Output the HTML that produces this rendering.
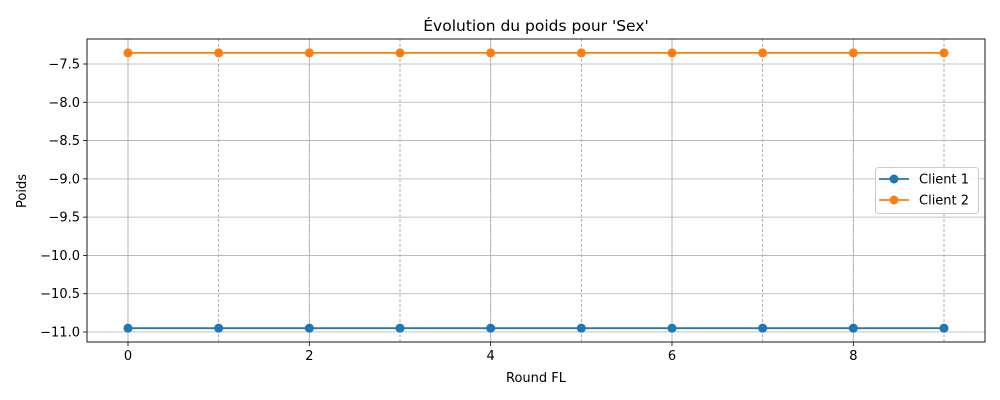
<!DOCTYPE html>
<html><head><meta charset="utf-8"><style>
body{margin:0;background:#fff;}
svg{display:block;font-family:"DejaVu Sans","Liberation Sans",sans-serif;}
</style></head><body>
<svg id="chart" width="1000" height="400"></svg>
<script>
const rounds=[0,1,2,3,4,5,6,7,8,9];
const client1=[-10.95,-10.95,-10.95,-10.95,-10.95,-10.95,-10.95,-10.95,-10.95,-10.95];
const client2=[-7.355,-7.355,-7.355,-7.355,-7.355,-7.355,-7.355,-7.355,-7.355,-7.355];
const xTicks=[0,2,4,6,8];
const yTicks=[-7.5,-8.0,-8.5,-9.0,-9.5,-10.0,-10.5,-11.0];
const yLabels=["\u22127.5","\u22128.0","\u22128.5","\u22129.0","\u22129.5","\u221210.0","\u221210.5","\u221211.0"];
const L=87,R=985,T=39,B=342;
const xs=v=>128+(v-0)*(944-128)/9;
const ys=v=>64+(-7.5-v)*(332-64)/3.5;
const svg=document.getElementById('chart');
const NS='http://www.w3.org/2000/svg';
function mk(t,a,p){const e=document.createElementNS(NS,t);for(const k in a)e.setAttribute(k,a[k]);(p||svg).appendChild(e);return e;}
mk('rect',{x:0,y:0,width:1000,height:400,fill:'#fff'});
const grid=mk('g',{});


rounds.forEach(r=>{const l=mk('line',{x1:xs(r),x2:xs(r),y1:T,y2:B,stroke:'#999','stroke-width':0.8,'stroke-dasharray':'3,2'},grid);

});
xTicks.forEach(r=>{const l=mk('line',{x1:xs(r),x2:xs(r),y1:T,y2:B,stroke:'#b0b0b0','stroke-width':0.8},grid);


mk('line',{x1:xs(r),x2:xs(r),y1:B,y2:B+4,stroke:'#000','stroke-width':0.8});
const t=mk('text',{x:xs(r),y:B+18,'font-size':13,'text-anchor':'middle'});t.textContent=r;

});
yTicks.forEach((v,i)=>{const l=mk('line',{x1:L,x2:R,y1:ys(v),y2:ys(v),stroke:'#b0b0b0','stroke-width':0.8},grid);


mk('line',{x1:L-4,x2:L,y1:ys(v),y2:ys(v),stroke:'#000','stroke-width':0.8});
const t=mk('text',{x:L-7,y:ys(v)+4.5,'font-size':13,'text-anchor':'end'});t.textContent=yLabels[i];

});
function series(data,color,name){const g=mk('g',{});


mk('polyline',{points:rounds.map((r,i)=>xs(r)+','+ys(data[i])).join(' '),fill:'none',stroke:color,'stroke-width':1.8},g);
rounds.forEach((r,i)=>{const c=mk('circle',{cx:xs(r),cy:ys(data[i]),r:4.5,fill:color},g);

});}
series(client1,'#1f77b4','series-client-1');
series(client2,'#ff7f0e','series-client-2');
mk('rect',{x:L,y:T,width:R-L,height:B-T,fill:'none',stroke:'#000','stroke-width':0.9});
const title=mk('text',{x:536,y:31,'font-size':15.5,'text-anchor':'middle'});title.textContent="Évolution du poids pour 'Sex'";


const xt=mk('text',{x:536,y:382,'font-size':13,'text-anchor':'middle'});xt.textContent='Round FL';


const yt=mk('text',{x:26,y:191,'font-size':13,'text-anchor':'middle',transform:'rotate(-90 26 191)'});yt.textContent='Poids';


const lg=mk('g',{});


mk('rect',{x:875.5,y:167.5,width:103,height:46,rx:3,fill:'#fff','fill-opacity':0.8,stroke:'#ccc'},lg);
[['Client 1','#1f77b4',179],['Client 2','#ff7f0e',200]].forEach(([n,c,y])=>{
const e=mk('g',{},lg);


mk('line',{x1:879,x2:909,y1:y,y2:y,stroke:c,'stroke-width':1.8},e);
mk('circle',{cx:894,cy:y,r:4.5,fill:c},e);
const t=mk('text',{x:919,y:y+4.5,'font-size':13},e);t.textContent=n;});
</script>
</body></html>
